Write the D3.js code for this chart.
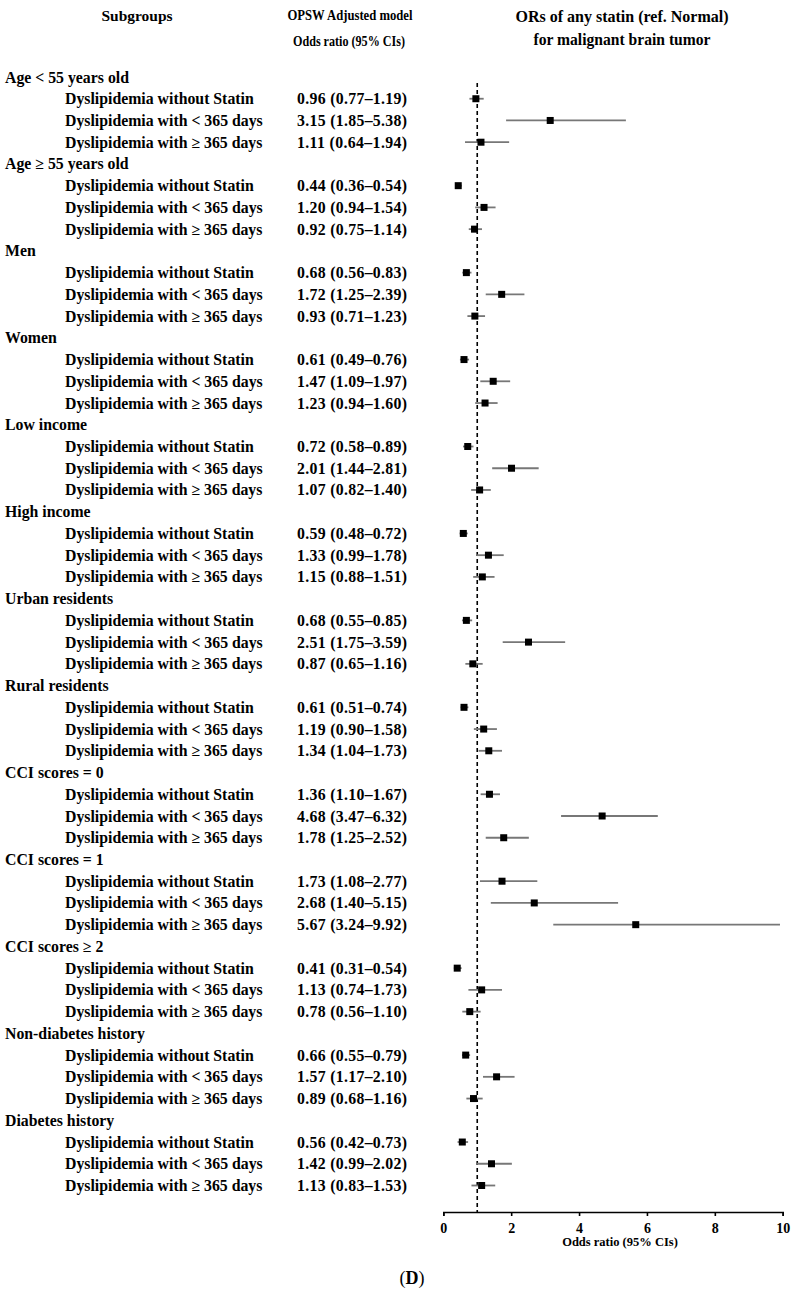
<!DOCTYPE html>
<html>
<head>
<meta charset="utf-8">
<script src="https://cdn.jsdelivr.net/npm/d3@7/dist/d3.min.js"></script>
<style>
  html, body { margin: 0; padding: 0; background: #fff; }
  svg { display: block; }
  text { font-family: "Liberation Serif", "Times New Roman", serif; font-weight: bold; fill: #000; }
</style>
</head>
<body>
<svg id="chart" width="795" height="1294"></svg>
<script>
// ---------- DATA ----------
const groups = [
  "Age < 55 years old", "Age \u2265 55 years old", "Men", "Women", "Low income", "High income",
  "Urban residents", "Rural residents", "CCI scores = 0", "CCI scores = 1", "CCI scores \u2265 2",
  "Non-diabetes history", "Diabetes history"
];
const subLabels = ["Dyslipidemia without Statin", "Dyslipidemia with < 365 days", "Dyslipidemia with \u2265 365 days"];
// odds ratios per group: [without statin, <365 days, >=365 days]
const orValues = [
  [0.96, 3.15, 1.11], [0.44, 1.20, 0.92], [0.68, 1.72, 0.93], [0.61, 1.47, 1.23],
  [0.72, 2.01, 1.07], [0.59, 1.33, 1.15], [0.68, 2.51, 0.87], [0.61, 1.19, 1.34],
  [1.36, 4.68, 1.78], [1.73, 2.68, 5.67], [0.41, 1.13, 0.78], [0.66, 1.57, 0.89],
  [0.56, 1.42, 1.13]
];
const lowerCI = [
  [0.77, 1.85, 0.64], [0.36, 0.94, 0.75], [0.56, 1.25, 0.71], [0.49, 1.09, 0.94],
  [0.58, 1.44, 0.82], [0.48, 0.99, 0.88], [0.55, 1.75, 0.65], [0.51, 0.90, 1.04],
  [1.10, 3.47, 1.25], [1.08, 1.40, 3.24], [0.31, 0.74, 0.56], [0.55, 1.17, 0.68],
  [0.42, 0.99, 0.83]
];
const upperCI = [
  [1.19, 5.38, 1.94], [0.54, 1.54, 1.14], [0.83, 2.39, 1.23], [0.76, 1.97, 1.60],
  [0.89, 2.81, 1.40], [0.72, 1.78, 1.51], [0.85, 3.59, 1.16], [0.74, 1.58, 1.73],
  [1.67, 6.32, 2.52], [2.77, 5.15, 9.92], [0.54, 1.73, 1.10], [0.79, 2.10, 1.16],
  [0.73, 2.02, 1.53]
];
const xTicks = [0, 2, 4, 6, 8, 10];
const refValue = 1;

// ---------- BUILD ROWS ----------
const rows = [];
groups.forEach((g, gi) => {
  rows.push({ type: "header", label: g });
  subLabels.forEach((s, si) => {
    rows.push({ type: "item", label: s, or: orValues[gi][si], lo: lowerCI[gi][si], hi: upperCI[gi][si] });
  });
});

const fmt = d3.format(".2f");
const svg = d3.select("#chart");

const x = d3.scaleLinear().domain([0, 10]).range([443.3, 782.7]);
const y = d3.scaleLinear().domain([0, rows.length - 1]).range([77, 1185.5]);
const axisY = 1212;

// ---------- COLUMN HEADERS ----------
svg.append("text").attr("x", 137).attr("y", 15).attr("text-anchor", "middle")
  .attr("dominant-baseline", "central").style("font-size", "15.5px")
  .attr("textLength", 71).attr("lengthAdjust", "spacingAndGlyphs").text("Subgroups");
svg.append("text").attr("x", 350).attr("y", 15).attr("text-anchor", "middle")
  .attr("dominant-baseline", "central").style("font-size", "14.5px")
  .attr("textLength", 125).attr("lengthAdjust", "spacingAndGlyphs").text("OPSW Adjusted model");
svg.append("text").attr("x", 349).attr("y", 41).attr("text-anchor", "middle")
  .attr("dominant-baseline", "central").style("font-size", "14.5px")
  .attr("textLength", 112).attr("lengthAdjust", "spacingAndGlyphs").text("Odds ratio (95% CIs)");
svg.append("text").attr("x", 622).attr("y", 16).attr("text-anchor", "middle")
  .attr("dominant-baseline", "central").style("font-size", "16px")
  .attr("textLength", 213).attr("lengthAdjust", "spacingAndGlyphs").text("ORs of any statin (ref. Normal)");
svg.append("text").attr("x", 622).attr("y", 39).attr("text-anchor", "middle")
  .attr("dominant-baseline", "central").style("font-size", "16px")
  .attr("textLength", 177).attr("lengthAdjust", "spacingAndGlyphs").text("for malignant brain tumor");

// ---------- ROW TEXT ----------
const rowG = svg.append("g");
rows.forEach((r, i) => {
  if (r.type === "header") {
    rowG.append("text").attr("x", 5).attr("y", y(i)).attr("dominant-baseline", "central")
      .style("font-size", "15.8px").text(r.label);
  } else {
    rowG.append("text").attr("x", 65).attr("y", y(i)).attr("dominant-baseline", "central")
      .style("font-size", "15.8px").text(r.label);
    rowG.append("text").attr("x", 297).attr("y", y(i)).attr("dominant-baseline", "central")
      .style("font-size", "15.8px")
      .attr("textLength", 110).attr("lengthAdjust", "spacing")
      .text(`${fmt(r.or)} (${fmt(r.lo)}\u2013${fmt(r.hi)})`);
  }
});

// ---------- REFERENCE LINE ----------
svg.append("line")
  .attr("x1", x(refValue)).attr("x2", x(refValue))
  .attr("y1", 83).attr("y2", axisY)
  .attr("stroke", "#000").attr("stroke-width", 1.6).attr("stroke-dasharray", "4,3");

// ---------- CI LINES & SQUARES ----------
const items = rows.map((r, i) => ({ ...r, i })).filter(r => r.type === "item");
svg.append("g").selectAll("line").data(items).join("line")
  .attr("x1", d => x(d.lo)).attr("x2", d => x(d.hi))
  .attr("y1", d => y(d.i)).attr("y2", d => y(d.i))
  .attr("stroke", "#777").attr("stroke-width", 1.8);
const sq = 7;
svg.append("g").selectAll("rect").data(items).join("rect")
  .attr("x", d => x(d.or) - sq / 2).attr("y", d => y(d.i) - sq / 2)
  .attr("width", sq).attr("height", sq).attr("fill", "#000");

// ---------- AXIS ----------
const axis = d3.axisBottom(x).tickValues(xTicks).tickSize(4).tickPadding(7).tickFormat(d3.format("d"));
const ag = svg.append("g").attr("transform", `translate(0,${axisY})`).call(axis);
ag.select(".domain").attr("stroke", "#000").attr("stroke-width", 1.6);
ag.selectAll(".tick line").attr("stroke", "#000").attr("stroke-width", 1.6);
ag.selectAll(".tick text").style("font-family", "'Liberation Serif', serif")
  .style("font-weight", "bold").style("font-size", "14px").attr("fill", "#000");

svg.append("text").attr("x", 620).attr("y", 1242).attr("text-anchor", "middle")
  .attr("dominant-baseline", "central").style("font-size", "12.5px").text("Odds ratio (95% CIs)");

// ---------- PANEL LABEL ----------
const pl = svg.append("text").attr("x", 412).attr("y", 1278).attr("text-anchor", "middle")
  .attr("dominant-baseline", "central").style("font-size", "18px").style("font-weight", "normal");
pl.append("tspan").text("(");
pl.append("tspan").style("font-weight", "bold").text("D");
pl.append("tspan").text(")");
</script>
</body>
</html>
